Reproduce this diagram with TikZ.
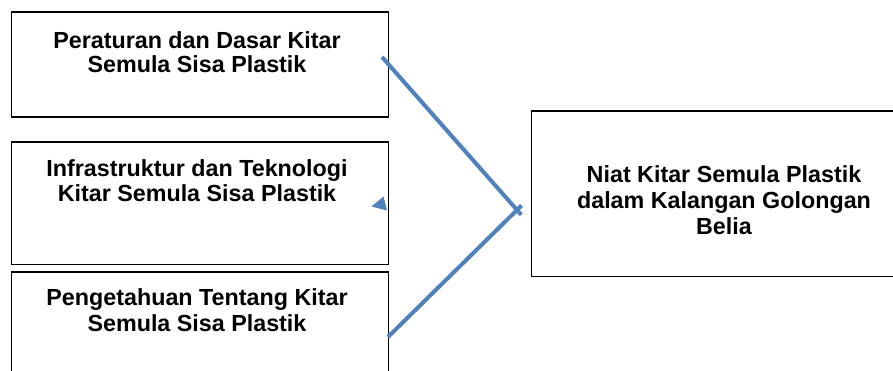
\documentclass[tikz,border=0pt]{standalone}
\usepackage{fontspec}
\setmainfont{Liberation Sans}
\definecolor{linkblue}{HTML}{4F81BD}
\begin{document}
\begin{tikzpicture}[x=1pt,y=-1pt,
  box/.style={draw=black,line width=1.7pt,fill=none},
  lbl/.style={font=\bfseries\fontsize{23.3}{24}\selectfont,align=center,inner sep=0pt,anchor=base},
  link/.style={draw=linkblue,line width=4pt},
  tip/.style={fill=linkblue,draw=none}]
\useasboundingbox (0,0) rectangle (893,371);
\clip (0,0) rectangle (893,371);
\fill[white] (0,0) rectangle (893,371);
% boxes
\node[box,minimum width=377pt,minimum height=104.5pt,anchor=north west,inner sep=0pt] (b1) at (10.5,11.5) {};
\node[box,minimum width=377pt,minimum height=122pt,anchor=north west,inner sep=0pt] (b2) at (10.5,141.5) {};
\node[box,minimum width=377pt,minimum height=130pt,anchor=north west,inner sep=0pt] (b3) at (10.5,271) {};
\node[box,minimum width=390pt,minimum height=165pt,anchor=north west,inner sep=0pt] (b4) at (530.5,110.5) {};
% texts (anchor = baseline of last line)
\node[lbl,font=\bfseries\fontsize{23.3}{23.5}\selectfont] (t1) at (197,72.5) {Peraturan dan Dasar Kitar\\Semula Sisa Plastik};
\node[lbl,font=\bfseries\fontsize{23.3}{25}\selectfont] (t2) at (197,201.7) {Infrastruktur dan Teknologi\\Kitar Semula Sisa Plastik};
\node[lbl,font=\bfseries\fontsize{23.3}{26.5}\selectfont] (t3) at (197,331.5) {Pengetahuan Tentang Kitar\\Semula Sisa Plastik};
\node[lbl,font=\bfseries\fontsize{23.3}{26}\selectfont] (t4) at (724,235) {Niat Kitar Semula Plastik\\dalam Kalangan Golongan\\Belia};
% connectors
\coordinate (s1) at (382,57);
\coordinate (s2) at (388,337);
\coordinate (j) at (517,210);
\coordinate (e1) at (521.3,214.8);
\coordinate (e2) at (521.5,205.5);
\draw[link] (s1) -- (j) -- (e1);
\draw[link] (s2) -- (j) -- (e2);
% small arrowhead at box 2
\coordinate (a1) at (371.5,206.5);
\coordinate (a2) at (383.5,196.5);
\coordinate (a3) at (387,210.5);
\fill[tip] (a1) -- (a2) -- (a3) -- cycle;
\end{tikzpicture}
\end{document}
